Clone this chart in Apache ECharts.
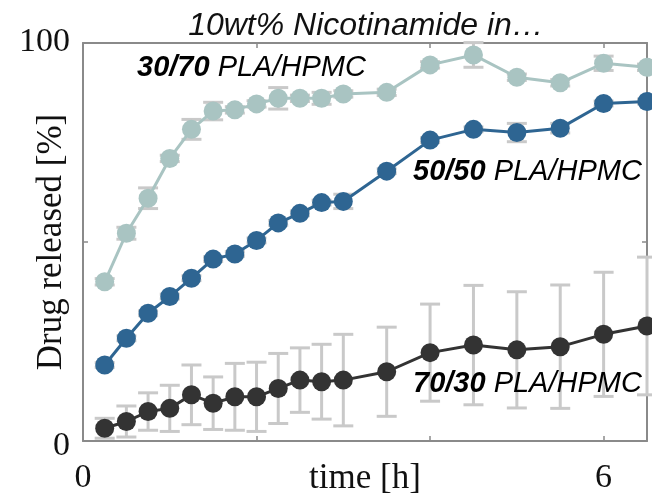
<!DOCTYPE html>
<html>
<head>
<meta charset="utf-8">
<script src="https://cdn.jsdelivr.net/npm/echarts@6/dist/echarts.min.js"></script>
<style>
  html, body { margin: 0; padding: 0; background: #fff; }
  #main { width: 652px; height: 502px; }
</style>
</head>
<body>
<div id="main"></div>
<script>
// time points [h]
var times = [0.25, 0.5, 0.75, 1, 1.25, 1.5, 1.75, 2, 2.25, 2.5, 2.75, 3, 3.5, 4, 4.5, 5, 5.5, 6, 6.5];

// drug released [%]
var pla30 = [40.0, 52.2, 61.0, 71.0, 78.3, 82.9, 83.2, 84.7, 86.1, 86.1, 86.1, 87.2, 87.6, 94.5, 97.0, 91.4, 90.0, 94.9, 93.9];
var pla50 = [19.1, 25.8, 32.1, 36.3, 40.9, 45.7, 47.0, 50.4, 54.8, 57.2, 59.9, 60.2, 67.8, 75.6, 78.3, 77.5, 78.6, 84.8, 85.3];
var pla70 = [3.2, 4.9, 7.4, 8.2, 11.6, 9.5, 11.1, 11.1, 13.2, 15.3, 14.9, 15.3, 17.4, 22.2, 24.1, 22.9, 23.7, 26.8, 28.9];

// standard deviations
var err30 = [0.8, 1.5, 2.6, 0.8, 2.5, 2.2, 0.8, 0.8, 2.7, 0.8, 1.5, 0.8, 0.8, 0.8, 3.1, 0.8, 0.8, 1.8, 0.8];
var err50 = [0.6, 0.6, 0.6, 0.6, 0.6, 0.6, 0.6, 0.6, 0.6, 0.6, 0.6, 1.8, 0.6, 0.6, 0.6, 2.3, 1.2, 0.6, 0.6];
var err70 = [2.5, 3.9, 4.7, 5.8, 7.5, 6.6, 8.4, 8.7, 8.8, 8.1, 9.4, 11.5, 11.2, 12.2, 15.0, 14.6, 15.5, 15.6, 17.3];

var xTickLabels = ['0', '6'];
var yTickLabels = ['0', '100'];

var colors = ['#a9c4c2', '#2e6592', '#333333'];
var errColor = '#c9c9c9';

function pts(vals) {
  return times.map(function (t, i) { return [t, vals[i]]; });
}
function errPts(vals, errs) {
  return times.map(function (t, i) { return [t, vals[i] - errs[i], vals[i] + errs[i]]; });
}

function renderErr(params, api) {
  var x = api.value(0);
  var lo = api.coord([x, api.value(1)]);
  var hi = api.coord([x, api.value(2)]);
  var w = 10;
  var st = { stroke: errColor, lineWidth: 3 };
  return {
    type: 'group',
    children: [
      { type: 'line', shape: { x1: lo[0], y1: lo[1], x2: hi[0], y2: hi[1] }, style: st },
      { type: 'line', shape: { x1: lo[0] - w, y1: lo[1], x2: lo[0] + w, y2: lo[1] }, style: st },
      { type: 'line', shape: { x1: hi[0] - w, y1: hi[1], x2: hi[0] + w, y2: hi[1] }, style: st }
    ]
  };
}

function lineSeries(vals, color) {
  return {
    type: 'line',
    data: pts(vals),
    symbol: 'circle',
    symbolSize: 19,
    clip: false,
    z: 3,
    itemStyle: { color: color },
    lineStyle: { color: color, width: 3 }
  };
}
function errSeries(vals, errs) {
  return {
    type: 'custom',
    renderItem: renderErr,
    data: errPts(vals, errs),
    encode: { x: 0, y: [1, 2] },
    clip: false,
    z: 1
  };
}

var axisLine = { show: true, onZero: false, lineStyle: { color: '#8a8a8a', width: 2 } };
var axisTick = { show: true, inside: true, length: 5, lineStyle: { color: '#8a8a8a', width: 1.5 } };
var serif = 'Liberation Serif';
var sans = 'Liberation Sans';

var option = {
  animation: false,
  backgroundColor: '#fff',
  title: {
    text: '10wt% Nicotinamide in…',
    left: 361,
    top: 5,
    textAlign: 'center',
    textStyle: { fontFamily: sans, fontStyle: 'italic', fontWeight: 'normal', fontSize: 32, color: '#111' }
  },
  grid: { left: 83, right: 5, top: 43, bottom: 61, show: false, outerBoundsMode: 'none', containLabel: false },
  xAxis: [{
    type: 'value', min: 0, max: 6.5, interval: 2,
    position: 'bottom',
    axisLine: axisLine, axisTick: axisTick, splitLine: { show: false },
    axisLabel: {
      margin: 20, fontFamily: serif, fontSize: 34, color: '#111',
      showMaxLabel: false,
      formatter: function (v) { return xTickLabels.indexOf(String(v)) >= 0 ? String(v) : ''; }
    },
    name: 'time [h]', nameLocation: 'middle', nameGap: 20, nameMoveOverlap: false,
    nameTextStyle: { fontFamily: serif, fontSize: 35, color: '#111' }
  }, {
    type: 'value', min: 0, max: 6.5, interval: 2,
    position: 'top',
    axisLine: axisLine, axisTick: axisTick, splitLine: { show: false },
    axisLabel: { show: false }
  }],
  yAxis: [{
    type: 'value', min: 0, max: 100, interval: 50,
    position: 'left',
    axisLine: axisLine, axisTick: axisTick, splitLine: { show: false },
    axisLabel: {
      margin: 13, fontFamily: serif, fontSize: 34, color: '#111',
      formatter: function (v) {
        var s = String(v);
        if (yTickLabels.indexOf(s) < 0) return '';
        return v === 0 ? '{lo|' + s + '}' : '{hi|' + s + '}';
      },
      rich: {
        lo: { fontFamily: serif, fontSize: 34, color: '#111', padding: [10, 0, 0, 0] },
        hi: { fontFamily: serif, fontSize: 34, color: '#111', padding: [0, 0, 2, 0] }
      }
    },
    name: 'Drug released [%]', nameLocation: 'middle', nameGap: 14, nameMoveOverlap: false,
    nameTextStyle: { fontFamily: serif, fontSize: 35, color: '#111' }
  }, {
    type: 'value', min: 0, max: 100, interval: 50,
    position: 'right',
    axisLine: axisLine, axisTick: axisTick, splitLine: { show: false },
    axisLabel: { show: false }
  }],
  graphic: [
    { type: 'text', left: 137, top: 53, style: { text: '{b|30/70} {n|PLA/HPMC}' } },
    { type: 'text', left: 413, top: 157, style: { text: '{b|50/50} {n|PLA/HPMC}' } },
    { type: 'text', left: 413, top: 369, style: { text: '{b|70/30} {n|PLA/HPMC}' } }
  ],
  series: [
    errSeries(pla30, err30),
    errSeries(pla50, err50),
    errSeries(pla70, err70),
    lineSeries(pla30, colors[0]),
    lineSeries(pla50, colors[1]),
    lineSeries(pla70, colors[2])
  ]
};

var rich = {
  b: { fontFamily: sans, fontStyle: 'italic', fontWeight: 'bold', fontSize: 29, color: '#000' },
  n: { fontFamily: sans, fontStyle: 'italic', fontWeight: 'normal', fontSize: 29, color: '#000' }
};
option.graphic.forEach(function (g) {
  g.style.rich = rich;
  g.style.font = 'italic 29px ' + sans;
  g.z = 10;
});

var myChart = echarts.init(document.getElementById('main'));
myChart.setOption(option, true);
</script>
</body>
</html>
